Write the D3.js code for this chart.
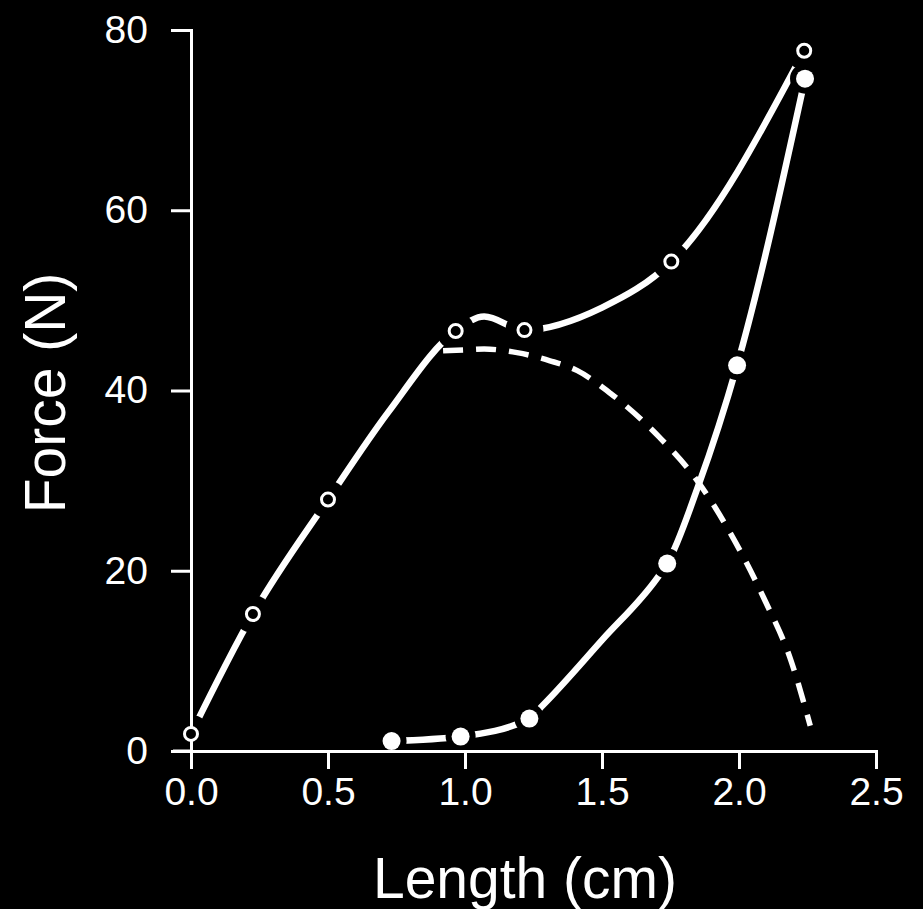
<!DOCTYPE html>
<html>
<head>
<meta charset="utf-8">
<script src="https://cdn.jsdelivr.net/npm/d3@7"></script>
<style>
  html, body { margin: 0; padding: 0; background: #000; }
  svg { display: block; }
  text { font-family: "Liberation Sans", Arial, Helvetica, sans-serif; fill: #fff; }
</style>
</head>
<body>
<script>
// ---- Data ----
const xTickValues = [0, 0.5, 1.0, 1.5, 2.0, 2.5];
const yTickValues = [0, 20, 40, 60, 80];
const xLabel = "Length (cm)";
const yLabel = "Force (N)";

// open-circle measurements
const openX = [0, 0.226, 0.5, 0.966, 1.217, 1.753, 2.238];
const openY = [1.9, 15.2, 27.9, 46.6, 46.7, 54.3, 77.7];

// filled-circle measurements
const filledX = [0.732, 0.984, 1.235, 1.738, 1.993, 2.241];
const filledY = [1.1, 1.6, 3.6, 20.8, 42.8, 74.6];

// hand-drawn fitted curve through open circles (traced)
const upperCurveX = [0, 0.226, 0.5, 0.72, 0.966, 1.07, 1.217, 1.5, 1.753, 2.238];
const upperCurveY = [1.9, 15.2, 27.9, 37.6, 46.6, 48.2, 46.7, 49.2, 54.3, 77.7];

// fitted curve through filled circles (traced)
const lowerCurveX = [0.732, 0.984, 1.235, 1.285, 1.5, 1.704, 1.738, 1.85, 1.993, 2.241];
const lowerCurveY = [1.1, 1.6, 3.6, 5.1, 12.3, 19.3, 20.8, 29.3, 42.8, 74.6];

// dashed difference curve (traced)
const dashX = [0.92, 1.0, 1.07, 1.19, 1.31, 1.41, 1.53, 1.71, 1.84, 1.97, 2.09, 2.19, 2.26];
const dashY = [44.4, 44.5, 44.6, 44.2, 43.3, 42.2, 39.7, 34.8, 30.3, 24.1, 17.0, 10.0, 2.8];

// ---- Chart ----
const W = 923, H = 909;
const svg = d3.select("body").append("svg").attr("width", W).attr("height", H);
svg.append("rect").attr("width", W).attr("height", H).attr("fill", "#000");

const x = d3.scaleLinear().domain([0, 2.5]).range([191, 876]);
const y = d3.scaleLinear().domain([0, 80]).range([751, 30]);

const zip = (xs, ys) => xs.map((v, i) => [v, ys[i]]);
const line = d3.line().x(d => x(d[0])).y(d => y(d[1])).curve(d3.curveMonotoneX);

// solid fitted curves
const curves = svg.append("g").attr("fill", "none").attr("stroke", "#fff").attr("stroke-linecap", "round");
curves.append("path").attr("d", line(zip(upperCurveX, upperCurveY))).attr("stroke-width", 6.5);
curves.append("path").attr("d", line(zip(lowerCurveX, lowerCurveY))).attr("stroke-width", 6.5);

// halos (gaps around markers)
const halos = svg.append("g");
halos.selectAll("circle.ho").data(zip(openX, openY)).join("circle").attr("class", "ho")
  .attr("cx", d => x(d[0])).attr("cy", d => y(d[1])).attr("r", 19).attr("fill", "#000");
halos.selectAll("circle.hf").data(zip(filledX, filledY)).join("circle").attr("class", "hf")
  .attr("cx", d => x(d[0])).attr("cy", d => y(d[1])).attr("r", 15).attr("fill", "#000");

// dashed curve
svg.append("path").attr("d", line(zip(dashX, dashY)))
  .attr("fill", "none").attr("stroke", "#fff").attr("stroke-width", 5.5)
  .attr("stroke-dasharray", "20,13");

// axes
const xAxis = d3.axisBottom(x).tickValues(xTickValues).tickFormat(d3.format(".1f"))
  .tickSize(18).tickPadding(8);
const yAxis = d3.axisLeft(y).tickValues(yTickValues).tickFormat(d3.format("d"))
  .tickSize(20).tickPadding(23);

const gx = svg.append("g").attr("transform", `translate(0,${y(0)})`).call(xAxis);
const gy = svg.append("g").attr("transform", `translate(${x(0)},0)`).call(yAxis);
[gx, gy].forEach(g => {
  g.select(".domain").attr("stroke", "#fff").attr("stroke-width", 3);
  g.selectAll(".tick line").attr("stroke", "#fff").attr("stroke-width", 3);
  g.selectAll(".tick text").attr("fill", "#fff")
    .style("font-family", '"Liberation Sans", Arial, sans-serif').style("font-size", "39px");
});
gx.selectAll(".tick text").attr("dy", "0.71em");
gx.append("line").attr("x1", x(0) - 18).attr("x2", x(0)).attr("y1", 0).attr("y2", 0)
  .attr("stroke", "#fff").attr("stroke-width", 3);

// markers
const marks = svg.append("g");
marks.selectAll("circle.o").data(zip(openX, openY)).join("circle").attr("class", "o")
  .attr("cx", d => x(d[0])).attr("cy", d => y(d[1])).attr("r", 6.5)
  .attr("fill", "#000").attr("stroke", "#fff").attr("stroke-width", 3);
marks.selectAll("circle.f").data(zip(filledX, filledY)).join("circle").attr("class", "f")
  .attr("cx", d => x(d[0])).attr("cy", d => y(d[1])).attr("r", 9)
  .attr("fill", "#fff");

// axis titles
svg.append("text").attr("x", 525).attr("y", 898).attr("text-anchor", "middle")
  .style("font-size", "57px").text(xLabel);
svg.append("text").attr("transform", "translate(65,393) rotate(-90)").attr("text-anchor", "middle")
  .style("font-size", "57px").text(yLabel);
</script>
</body>
</html>
